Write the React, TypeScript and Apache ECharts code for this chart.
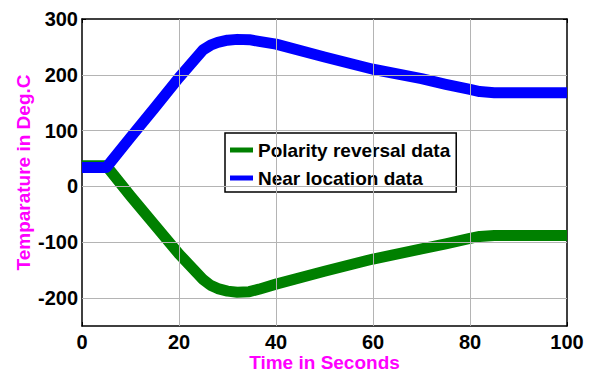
import React, { useEffect, useRef } from "react";
import * as echarts from "echarts";

const blueData: [number, number][] = [
  [0, 34], [5, 34], [10, 88], [15, 141], [20, 195], [25, 245], [26.5, 253], [28, 258],
  [30, 262], [32, 263.5], [34.5, 263], [36.5, 260], [40, 255], [50, 232], [60, 210],
  [70, 193], [75, 183], [80, 174], [82, 170], [85, 168], [100, 168],
];
const greenData: [number, number][] = [
  [0, 37], [5, 37], [10, -17], [15, -69], [20, -121], [25, -167], [26.5, -177], [28, -183],
  [30, -187.5], [32, -189.5], [34.5, -188.5], [36.5, -184], [40, -175], [50, -152],
  [60, -130], [70, -112], [75, -103], [80, -93], [82, -89.5], [85, -88], [100, -88],
];
const seriesNames = ["Polarity reversal data", "Near location data"];
const yTicks = [-200, -100, 0, 100, 200, 300];
const xTicks = [0, 20, 40, 60, 80, 100];

const FONT = "Liberation Sans, Arial, sans-serif";
const GRID = "#b4b4b4";

const boxAxis = {
  axisLine: { show: true, onZero: false, lineStyle: { color: "#000", width: 1.5 } },
  axisTick: { show: true, inside: true, length: 4, lineStyle: { color: "#000" } },
  axisLabel: { show: false },
  splitLine: { show: false },
};

export default function App() {
  const ref = useRef<HTMLDivElement>(null);
  useEffect(() => {
    const chart = echarts.init(ref.current!, null, { renderer: "svg" });
    chart.setOption({
      animation: false,
      backgroundColor: "#fff",
      grid: { left: 82, right: 27, top: 19, bottom: 48, outerBoundsMode: "none", containLabel: false },
      legend: {
        left: 225, top: 133, orient: "vertical",
        backgroundColor: "#fff", borderColor: "#000", borderWidth: 1.5, borderRadius: 0,
        padding: [7, 6, 4, 5], itemGap: 8, itemWidth: 23, itemHeight: 5,
        icon: "rect",
        textStyle: { fontFamily: FONT, fontWeight: "bold", fontSize: 19, lineHeight: 20, color: "#000" },
        data: seriesNames,
      },
      xAxis: [
        {
          type: "value", min: 0, max: 100, interval: 20, position: "bottom",
          name: "Time in Seconds", nameLocation: "middle", nameGap: 28, nameMoveOverlap: false,
          nameTextStyle: { fontFamily: FONT, fontWeight: "bold", fontSize: 19, lineHeight: 16, color: "#FF00FF" },
          axisLine: { show: true, onZero: false, lineStyle: { color: "#000", width: 1.5 } },
          axisTick: { show: true, inside: true, length: 4, lineStyle: { color: "#000" } },
          axisLabel: { fontFamily: FONT, fontWeight: "bold", fontSize: 20, lineHeight: 18, color: "#000", margin: 7 },
          splitLine: { show: false },
        },
        { type: "value", min: 0, max: 100, interval: 20, position: "top", ...boxAxis },
      ],
      yAxis: [
        {
          type: "value", min: -250, max: 300, interval: 50, position: "left",
          name: "Temparature in Deg.C", nameLocation: "middle", nameGap: 49, nameRotate: 90, nameMoveOverlap: false,
          nameTextStyle: { fontFamily: FONT, fontWeight: "bold", fontSize: 19, lineHeight: 20, color: "#FF00FF" },
          axisLine: { show: true, onZero: false, lineStyle: { color: "#000", width: 1.5 } },
          axisTick: { show: true, inside: true, length: 4, customValues: yTicks, lineStyle: { color: "#000" } },
          axisLabel: {
            fontFamily: FONT, fontWeight: "bold", fontSize: 20, color: "#000", margin: 4,
            customValues: yTicks,
          },
          splitLine: { show: false },
        },
        {
          type: "value", min: -250, max: 300, interval: 50, position: "right",
          ...boxAxis,
          axisTick: { show: true, inside: true, length: 4, customValues: yTicks, lineStyle: { color: "#000" } },
        },
      ],
      series: [
        {
          name: "grid", type: "line", data: [[0, -250]], silent: true, showSymbol: false,
          lineStyle: { width: 0, opacity: 0 }, z: 1,
          markLine: {
            silent: true, symbol: "none", label: { show: false }, animation: false,
            lineStyle: { color: GRID, width: 1, type: "solid" },
            data: [
              ...yTicks.filter((v) => v !== 300).map((v) => ({ yAxis: v })),
              ...xTicks.filter((v) => v !== 0 && v !== 100).map((v) => ({ xAxis: v })),
            ],
          },
        },
        {
          name: seriesNames[0], type: "line", data: greenData, showSymbol: false, z: 3,
          lineStyle: { color: "#008000", width: 11, join: "round", cap: "butt" }, itemStyle: { color: "#008000" },
        },
        {
          name: seriesNames[1], type: "line", data: blueData, showSymbol: false, z: 4,
          lineStyle: { color: "#0000FF", width: 11, join: "round", cap: "butt" }, itemStyle: { color: "#0000FF" },
        },
      ],
    });
    return () => chart.dispose();
  }, []);
  return <div ref={ref} style={{ width: 594, height: 374, position: "absolute", left: 0, top: 0 }} />;
}
